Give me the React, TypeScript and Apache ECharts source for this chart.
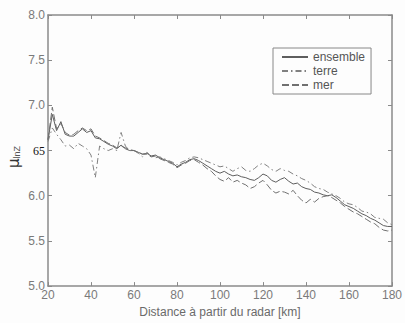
import React, { useEffect, useRef } from "react";
import * as echarts from "echarts";

const distance = [20,22,24,26,28,30,32,34,36,38,40,42,44,46,48,50,52,54,56,58,60,62,64,66,68,70,72,74,76,78,80,82,84,86,88,90,92,94,96,98,100,102,104,106,108,110,112,114,116,118,120,122,124,126,128,130,132,134,136,138,140,142,144,146,148,150,152,154,156,158,160,162,164,166,168,170,172,174,176,178,180];

const ensemble = [6.62,6.90,6.72,6.82,6.68,6.66,6.66,6.70,6.74,6.70,6.72,6.64,6.63,6.60,6.57,6.55,6.52,6.56,6.52,6.50,6.50,6.48,6.46,6.47,6.44,6.45,6.42,6.40,6.38,6.36,6.32,6.35,6.37,6.40,6.41,6.39,6.36,6.33,6.30,6.27,6.25,6.27,6.24,6.22,6.23,6.21,6.20,6.18,6.17,6.20,6.24,6.22,6.17,6.15,6.18,6.20,6.16,6.13,6.14,6.10,6.08,6.07,6.04,6.03,6.01,6.00,6.01,5.98,5.94,5.90,5.88,5.86,5.83,5.80,5.78,5.75,5.73,5.70,5.67,5.66,5.66];

const terre = [6.60,6.75,6.68,6.62,6.55,6.56,6.52,6.58,6.55,6.52,6.45,6.20,6.55,6.52,6.50,6.52,6.50,6.70,6.55,6.50,6.50,6.47,6.43,6.48,6.44,6.42,6.43,6.41,6.39,6.37,6.34,6.37,6.39,6.42,6.43,6.42,6.40,6.38,6.36,6.34,6.32,6.33,6.30,6.27,6.30,6.32,6.28,6.27,6.30,6.34,6.36,6.33,6.29,6.27,6.30,6.28,6.27,6.24,6.22,6.19,6.17,6.14,6.10,6.08,6.07,6.04,6.02,6.00,5.97,5.93,5.91,5.90,5.87,5.83,5.82,5.80,5.76,5.75,5.74,5.70,5.68];

const mer = [6.62,6.98,6.74,6.80,6.70,6.67,6.68,6.72,6.75,6.72,6.74,6.66,6.64,6.61,6.58,6.56,6.53,6.55,6.53,6.51,6.50,6.48,6.46,6.46,6.43,6.44,6.41,6.39,6.37,6.35,6.31,6.34,6.36,6.39,6.40,6.37,6.34,6.30,6.27,6.22,6.18,6.16,6.20,6.15,6.17,6.14,6.12,6.08,6.10,6.14,6.17,6.12,6.06,6.03,6.05,6.04,6.02,6.06,6.00,5.95,5.92,5.96,5.93,5.97,5.99,6.00,5.98,5.95,5.92,5.88,5.85,5.82,5.80,5.77,5.74,5.71,5.69,5.65,5.62,5.61,5.62];

const xTicks = [20, 40, 60, 80, 100, 120, 140, 160, 180];
const yTicks = [5.0, 5.5, 6.0, 6.5, 7.0, 7.5, 8.0];

const axisColor = "#8a8a8a";
const labelColor = "#7a7a7a";

export default function App() {
  const ref = useRef<HTMLDivElement>(null);
  useEffect(() => {
    if (!ref.current) return;
    const chart = echarts.init(ref.current, null, { renderer: "svg" });
    const pairs = (arr: number[]) => distance.map((d, i) => [d, arr[i]]);
    const baseX = {
      type: "value",
      min: xTicks[0],
      max: xTicks[xTicks.length - 1],
      interval: 20,
      splitLine: { show: false },
      axisLine: { show: true, onZero: false, lineStyle: { color: axisColor, width: 1.5 } },
      axisTick: { show: true, inside: true, length: 4, lineStyle: { color: axisColor } },
    };
    const baseY = {
      type: "value",
      min: yTicks[0],
      max: yTicks[yTicks.length - 1],
      interval: 0.5,
      splitLine: { show: false },
      axisLine: { show: true, onZero: false, lineStyle: { color: axisColor, width: 1.5 } },
      axisTick: { show: true, inside: true, length: 4, lineStyle: { color: axisColor } },
    };
    chart.setOption({
      animation: false,
      backgroundColor: "#fdfdfd",
      grid: { left: 48, right: 5, top: 15, bottom: 34, containLabel: false },
      xAxis: [
        {
          ...baseX,
          position: "bottom",
          name: "Distance à partir du radar [km]",
          nameLocation: "middle",
          nameGap: 18,
          nameTextStyle: { color: "#6a6a6a", fontSize: 12, fontFamily: "Liberation Sans, Arial, sans-serif" },
          axisLabel: {
            color: labelColor,
            fontSize: 12,
            margin: 3,
            fontFamily: "Liberation Sans, Arial, sans-serif",
          },
        },
        { ...baseX, position: "top", axisLabel: { show: false } },
      ],
      yAxis: [
        {
          ...baseY,
          position: "left",
          axisLabel: {
            color: labelColor,
            fontSize: 12,
            margin: 3,
            fontFamily: "Liberation Sans, Arial, sans-serif",
            formatter: (v: number) => (Math.abs(v - 6.5) < 1e-6 ? "{s|65}" : v.toFixed(1)),
            rich: {
              s: { fontFamily: "Liberation Serif, Times New Roman, serif", color: "#111", fontSize: 12 },
            },
          },
        },
        { ...baseY, position: "right", axisLabel: { show: false } },
      ],
      legend: {
        orient: "vertical",
        left: 273,
        top: 48,
        padding: [3, 6, 3, 8],
        itemGap: 2,
        itemWidth: 26,
        itemHeight: 10,
        itemStyle: { opacity: 0 },
        borderColor: "#888",
        borderWidth: 1,
        backgroundColor: "#fdfdfd",
        textStyle: { color: "#555", fontSize: 12, fontFamily: "Liberation Sans, Arial, sans-serif" },
        data: ["ensemble", "terre", "mer"],
      },
      graphic: [
        {
          type: "text",
          x: 6,
          y: 168,
          rotation: Math.PI / 2,
          style: {
            text: "{m|μ}{s|lnZ}",
            fill: "#333",
            rich: {
              m: { fontSize: 15, fontFamily: "DejaVu Sans, sans-serif", fill: "#333" },
              s: { fontSize: 9, fontFamily: "Liberation Sans, sans-serif", fill: "#555", padding: [6, 0, 0, 0] },
            },
          },
        },
      ],
      series: [
        {
          name: "ensemble",
          type: "line",
          data: pairs(ensemble),
          symbol: "none",
          lineStyle: { color: "#5e5e5e", width: 1, type: "solid" },
          itemStyle: { color: "#5e5e5e" },
        },
        {
          name: "terre",
          type: "line",
          data: pairs(terre),
          symbol: "none",
          lineStyle: { color: "#808080", width: 1, type: [6, 3, 1.5, 3] },
          itemStyle: { color: "#808080" },
        },
        {
          name: "mer",
          type: "line",
          data: pairs(mer),
          symbol: "none",
          lineStyle: { color: "#707070", width: 1, type: [7, 3] },
          itemStyle: { color: "#707070" },
        },
      ],
    });
    return () => chart.dispose();
  }, []);
  return <div ref={ref} style={{ width: 405, height: 323, position: "absolute", left: 0, top: 0 }} />;
}
